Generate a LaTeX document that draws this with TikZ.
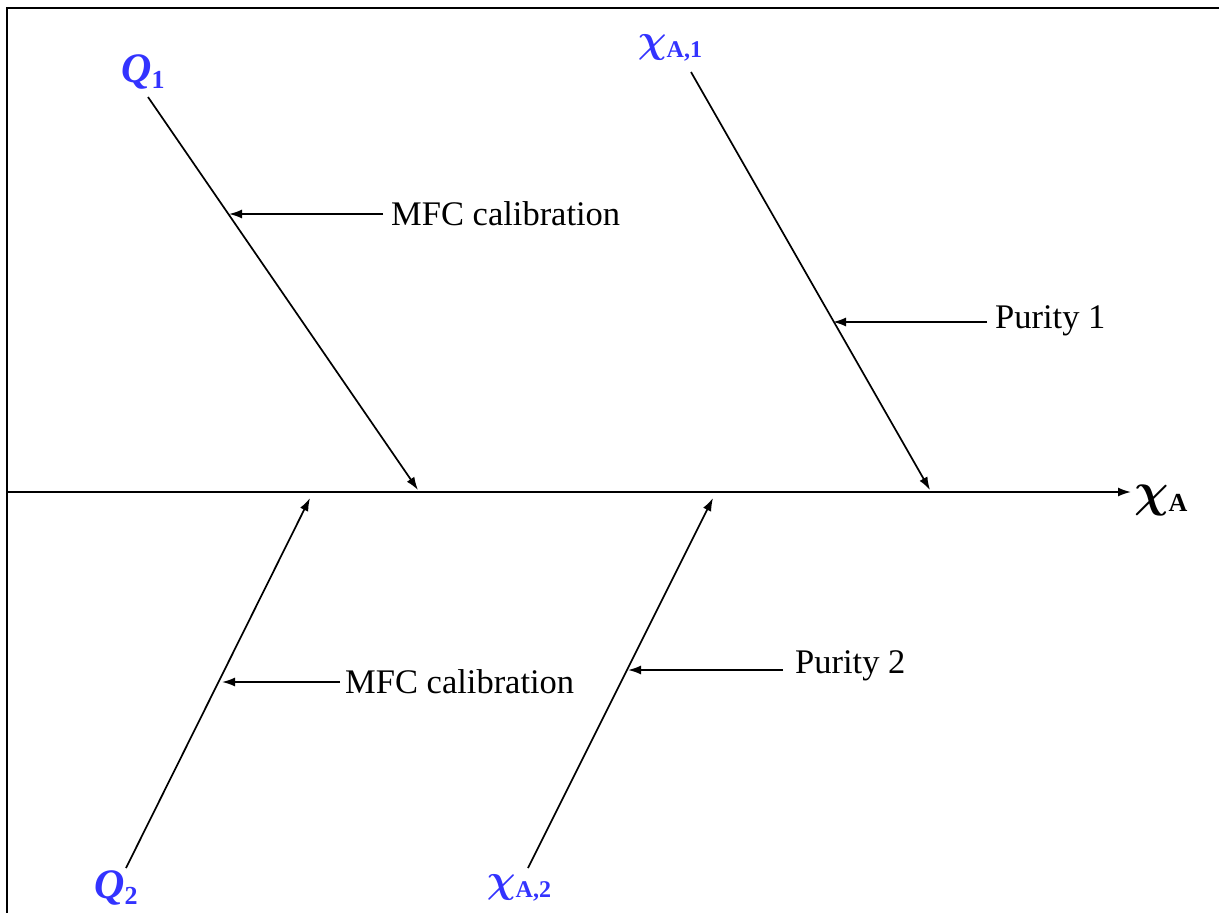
\RequirePackage{fix-cm}
\documentclass[tikz,border=0pt]{standalone}
\usepackage{fontspec}
\usepackage{bm}
\setmainfont{Liberation Serif}
\usetikzlibrary{arrows.meta,calc}
\definecolor{lblue}{RGB}{51,51,255}
\newcommand{\bchi}{\ensuremath{\bm{\chi}}}
\begin{document}
\begin{tikzpicture}[x=1pt,y=-1pt,
  ln/.style={line width=1.7pt},
  arr/.style={ln,-{Latex[length=13pt,width=9pt]}},
  lbl/.style={font=\fontsize{34.5}{40}\selectfont, anchor=west, inner sep=0pt},
  var/.style={text=lblue, inner sep=0pt, font=\fontsize{42}{48}\selectfont\bfseries\itshape}]
\useasboundingbox (0,0) rectangle (1219,913);
\draw[ln] (7,913) -- (7,8) -- (1219,8);
% axis
\coordinate (a0) at (7,492);
\coordinate (a1) at (1131,492);
\node[inner sep=0pt, anchor=west, font=\fontsize{48}{52}\selectfont\bfseries] (xa) at (1134,500) {\bchi\raisebox{-0.25ex}{\fontsize{26}{30}\selectfont A}};
\draw[arr] (a0) -- (a1);
% labels
\node[var] (q1) at (143,72) {Q\raisebox{-0.3ex}{\fontsize{26}{30}\selectfont\upshape 1}};
\node[var, font=\fontsize{40}{44}\selectfont\bfseries] (x1) at (670,48) {\bchi\raisebox{-0.3ex}{\fontsize{24}{28}\selectfont A,1}};
\node[var] (q2) at (116,888) {Q\raisebox{-0.3ex}{\fontsize{26}{30}\selectfont\upshape 2}};
\node[var, font=\fontsize{40}{44}\selectfont\bfseries] (x2) at (519,888) {\bchi\raisebox{-0.3ex}{\fontsize{24}{28}\selectfont A,2}};
% bones
\coordinate (q1s) at (148,97);  \coordinate (q1e) at (418,490);
\coordinate (x1s) at (691,72);  \coordinate (x1e) at (930,490);
\coordinate (q2s) at (126,868); \coordinate (q2e) at (310,498);
\coordinate (x2s) at (528,868); \coordinate (x2e) at (713,498);
\draw[arr] (q1s) -- (q1e);
\draw[arr] (x1s) -- (x1e);
\draw[arr] (q2s) -- (q2e);
\draw[arr] (x2s) -- (x2e);
% causes
\node[lbl] (m1) at (391,214) {MFC calibration};
\node[lbl] (p1) at (995,321) {Purity 1};
\node[lbl] (m2) at (345,682) {MFC calibration};
\node[lbl] (p2) at (795,666) {Purity 2};
\coordinate (m1s) at (383,214); \coordinate (m1t) at (229,214);
\coordinate (p1s) at (987,322); \coordinate (p1t) at (833,322);
\coordinate (m2s) at (340,682); \coordinate (m2t) at (222,682);
\coordinate (p2s) at (783,670); \coordinate (p2t) at (628,670);
\draw[arr] (m1s) -- (m1t);
\draw[arr] (p1s) -- (p1t);
\draw[arr] (m2s) -- (m2t);
\draw[arr] (p2s) -- (p2t);
\end{tikzpicture}
\end{document}
